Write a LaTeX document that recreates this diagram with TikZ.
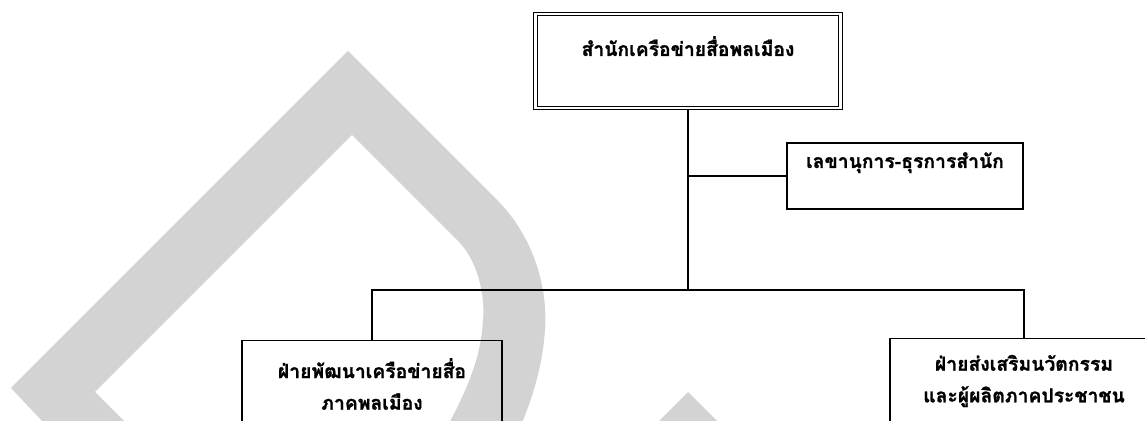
\documentclass[tikz,border=0pt]{standalone}
\usepackage{fontspec}
\newfontfamily\thaifont[Script=Thai,BoldFeatures={FakeBold=1.2}]{Loma}
\usetikzlibrary{positioning}
\definecolor{wmgray}{RGB}{211,211,211}
\begin{document}
\begin{tikzpicture}[x=0.02cm,y=-0.02cm,
    unitbox/.style={draw,line width=0.9pt,align=center,
      font=\thaifont\bfseries\fontsize{11}{18}\selectfont},
    headbox/.style={draw,line width=0.6pt,double,double distance=1.2pt,
      font=\thaifont\bfseries\fontsize{11}{18}\selectfont},
    link/.style={line width=1pt}]
    \useasboundingbox (0,0) rectangle (1145,421);
    \fill[wmgray] (60,440) -- (11,388) -- (348,51) -- (500,203)
        .. controls (535,240) and (548,290) .. (545,330)
        .. controls (542,370) and (532,400) .. (515,440)
        -- (440,440) .. controls (465,395) and (481,360) .. (483,320)
        .. controls (485,300) and (480,265) .. (460,243)
        -- (352,135) -- (95,392) -- (143,440) -- cycle;
    \fill[wmgray] (688,392) -- (650,430) -- (726,430) -- cycle;
    \node[headbox,minimum width=6.1cm,minimum height=1.88cm,
      text height=0.3cm,text depth=0.5cm] (top) at (688,61) {สำนักเครือข่ายสื่อพลเมือง};
    \node[unitbox,minimum width=4.72cm,minimum height=1.32cm,
      text height=0.3cm,text depth=0.62cm] (sec) at (905,176) {เลขานุการ-ธุรการสำนัก};
    \node[unitbox,minimum width=5.2cm,minimum height=1.74cm] (left) at (372,384)
      {ฝ่ายพัฒนาเครือข่ายสื่อ\\ภาคพลเมือง};
    \node[unitbox,minimum width=5.36cm,minimum height=1.7cm] (right) at (1024,381)
      {ฝ่ายส่งเสริมนวัตกรรม\\และผู้ผลิตภาคประชาชน};
    \coordinate (bus) at (688,290);
    \draw[link] (top.south) -- (bus);
    \draw[link] (sec.west) -- (sec.west -| bus);
    \draw[link] (left.north) |- (bus) -| (right.north);
\end{tikzpicture}
\end{document}
